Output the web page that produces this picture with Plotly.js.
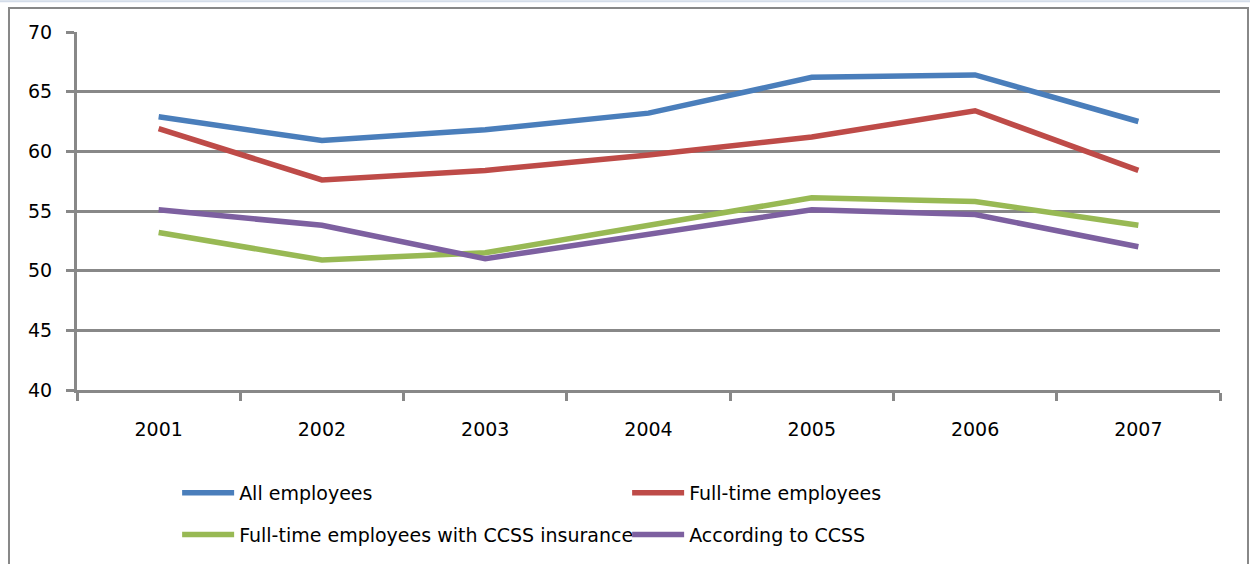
<!DOCTYPE html>
<html>
<head>
<meta charset="utf-8">
<script src="https://cdn.plot.ly/plotly-3.0.1.min.js"></script>
<style>html,body{margin:0;padding:0;background:#fff;}#chart{width:1250px;height:564px;}</style>
</head>
<body>
<div id="chart"></div>
<script>
const years = ["2001", "2002", "2003", "2004", "2005", "2006", "2007"];
const allEmployees = [62.9, 60.9, 61.8, 63.2, 66.2, 66.4, 62.5];
const fullTime = [61.9, 57.6, 58.4, 59.7, 61.2, 63.4, 58.4];
const fullTimeCCSS = [53.2, 50.9, 51.5, 53.8, 56.1, 55.8, 53.8];
const accordingCCSS = [55.1, 53.8, 51.0, 53.1, 55.1, 54.7, 52.0];
const seriesNames = ["All employees", "Full-time employees", "Full-time employees with CCSS insurance", "According to CCSS"];
const colors = ["#4A7EBB", "#BE4B48", "#98B954", "#7D60A0"];
const values = [allEmployees, fullTime, fullTimeCCSS, accordingCCSS];
const legendIds = ["legend", "legend", "legend2", "legend2"];

const traces = values.map((v, i) => ({
  x: years, y: v, type: "scatter", mode: "lines", name: seriesNames[i],
  line: {color: colors[i], width: 5.5},
  legend: legendIds[i]
}));

const fam = "DejaVu Sans, sans-serif";
const font = {family: fam, size: 19, color: "#000"};
const legendCommon = {
  orientation: "h", xanchor: "left", yanchor: "middle",
  font: {family: fam, size: 19, color: "#000"},
  entrywidth: 383, entrywidthmode: "pixels", itemwidth: 52, bgcolor: "rgba(0,0,0,0)",
  tracegroupgap: 0
};

const layout = {
  width: 1250, height: 564,
  margin: {l: 77, r: 30, t: 32, b: 173},
  paper_bgcolor: "#fff", plot_bgcolor: "#fff",
  font: font,
  showlegend: true,
  legend: Object.assign({}, legendCommon, {x: 0.0876, y: -0.284}),
  legend2: Object.assign({}, legendCommon, {x: 0.0876, y: -0.4}),
  xaxis: {
    type: "category", range: [-0.5, 6.5],
    showline: true, linecolor: "#888", linewidth: 3,
    ticks: "outside", tickson: "boundaries", ticklen: 8, tickwidth: 3, tickcolor: "#888",
    showgrid: false, zeroline: false, ticklabelstandoff: 20,
    tickfont: font
  },
  yaxis: {
    range: [40, 70], dtick: 5, tick0: 40,
    showline: true, linecolor: "#888", linewidth: 3,
    ticks: "outside", ticklen: 8, tickwidth: 3, tickcolor: "#888",
    showgrid: true, gridcolor: "#888", gridwidth: 3, zeroline: false,
    ticklabelstandoff: 10,
    tickfont: font
  },
  shapes: [
    {type: "rect", xref: "paper", yref: "paper", x0: -0.0595, x1: 1.0245, y0: -0.6, y1: 1.067,
     line: {color: "#888", width: 2}, layer: "below"},
    {type: "line", xref: "paper", yref: "paper", x0: -0.07, x1: 1.04, y0: 1.086, y1: 1.086,
     line: {color: "#D3DCE9", width: 2}, layer: "below"}
  ]
};

Plotly.newPlot("chart", traces, layout, {displayModeBar: false, staticPlot: true});
</script>
</body>
</html>
